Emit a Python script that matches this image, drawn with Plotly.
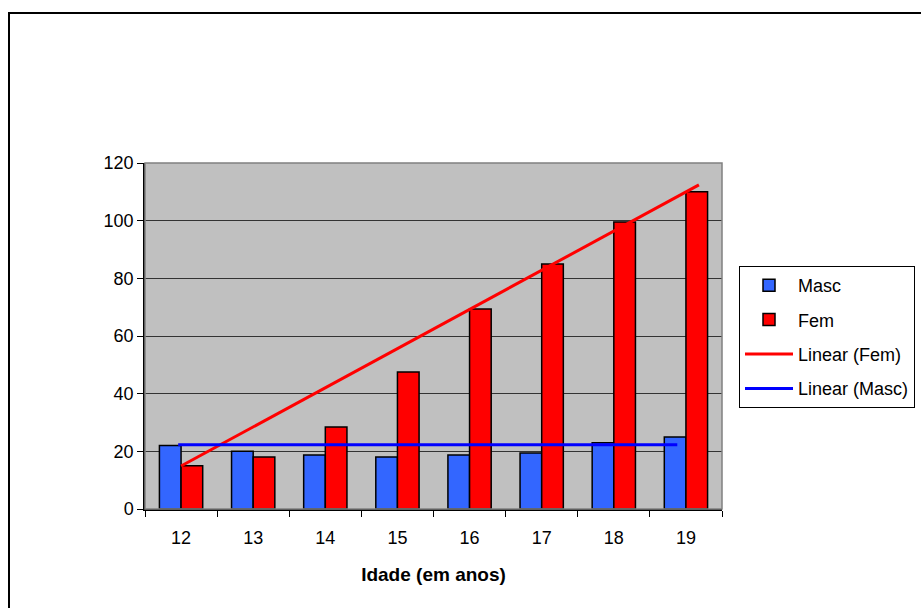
import plotly.graph_objects as go

idade = [12, 13, 14, 15, 16, 17, 18, 19]
masc = [22, 20, 18.7, 18, 18.7, 19.4, 23, 25]
fem = [15, 18, 28.4, 47.5, 69.4, 85, 99.5, 110]
# trend lines
trend_fem_x = [12, 19.18]
trend_fem_y = [14.9, 112.4]
trend_masc_x = [11.96, 18.88]
trend_masc_y = [22.3, 22.3]

fig = go.Figure()
fig.add_trace(go.Bar(x=idade, y=masc, name="Masc", marker=dict(color="#3366FF", line=dict(color="black", width=1.5)), legendgroup="a"))
fig.add_trace(go.Bar(x=idade, y=fem, name="Fem", marker=dict(color="#FF0000", line=dict(color="black", width=1.5)), legendgroup="b"))
fig.add_trace(go.Scatter(x=trend_fem_x, y=trend_fem_y, mode="lines", name="Linear (Fem)", line=dict(color="#FF0000", width=3), legendgroup="c"))
fig.add_trace(go.Scatter(x=trend_masc_x, y=trend_masc_y, mode="lines", name="Linear (Masc)", line=dict(color="#0000FF", width=3), legendgroup="d"))

L, T, R, B = 145, 163, 722, 509
W, H = 921, 608
pw, ph = R - L, B - T

def px(x):
    return (x - L) / pw

def py(y):
    return (B - y) / ph

fig.update_layout(
    width=W, height=H,
    margin=dict(l=L, r=W - R, t=T, b=H - B, pad=0, autoexpand=False),
    paper_bgcolor="white",
    plot_bgcolor="#C0C0C0",
    barmode="group", bargap=0.4, bargroupgap=0,
    font=dict(family="Arial, Liberation Sans, sans-serif", size=18, color="black"),
    legend=dict(x=px(739), y=py(266), xanchor="left", yanchor="top",
                bordercolor="black", borderwidth=1, bgcolor="white",
                font=dict(size=18, color="black"), tracegroupgap=8,
                itemwidth=48, traceorder="grouped"),
    showlegend=True,
    shapes=[
        dict(type="rect", xref="paper", yref="paper", x0=0, x1=1, y0=0, y1=1,
             line=dict(color="#808080", width=1.5), fillcolor="rgba(0,0,0,0)", layer="above"),
        dict(type="rect", xref="paper", yref="paper", x0=px(9), x1=px(1000), y0=py(700), y1=py(13),
             line=dict(color="black", width=2), fillcolor="rgba(0,0,0,0)", layer="below"),
    ],
)
fig.update_xaxes(
    range=[11.5, 19.5], tickvals=idade, ticktext=[str(v) for v in idade],
    ticks="outside", ticklen=12, tickcolor="rgba(0,0,0,0)",
    minor=dict(tick0=11.5, dtick=1, ticks="outside", ticklen=6, tickcolor="black", showgrid=False),
    showline=True, linecolor="black", linewidth=1.5, showgrid=False, zeroline=False,
    tickfont=dict(size=18),
    title=dict(text="<b>Idade (em anos)</b>", font=dict(size=19), standoff=20),
)
fig.update_yaxes(
    range=[0, 120], dtick=20, ticks="outside", ticklen=6, tickcolor="black",
    showline=True, linecolor="black", linewidth=1.5,
    showgrid=True, gridcolor="#333333", gridwidth=1, zeroline=False,
    tickfont=dict(size=18),
)
fig.write_html("out.html")
